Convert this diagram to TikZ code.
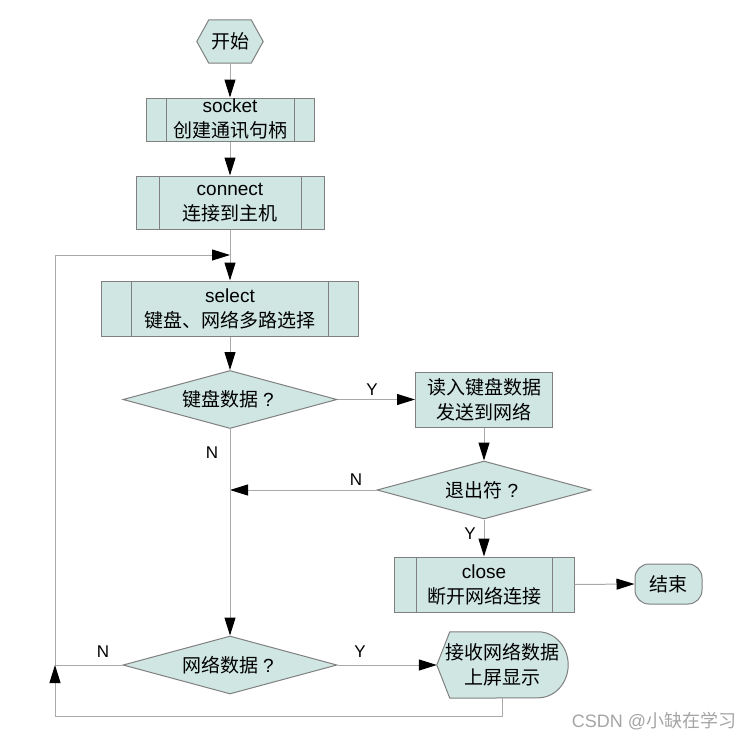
\documentclass[tikz,border=0pt]{standalone}
\usepackage{fontspec}
\setmainfont{Liberation Sans}
\newfontfamily\cjk{Noto Sans CJK SC}
\newcommand\zh[1]{{\cjk #1}}
\newcommand\askmark{\hspace{5pt}?\hspace{4pt}}
\usetikzlibrary{arrows.meta,shapes.geometric}
\pgfdeclarelayer{background}
\pgfsetlayers{background,main}

\definecolor{boxfill}{RGB}{207,230,226}
\definecolor{boxline}{RGB}{128,128,128}
\definecolor{wireline}{RGB}{170,170,170}
\definecolor{marktext}{RGB}{165,165,165}

\tikzset{
  base/.style={font=\fontsize{19}{25}\selectfont, align=center, inner sep=0pt, text=black},
  plainbox/.style={base, rectangle, draw=boxline, fill=boxfill, line width=1pt},
  procbox/.style={plainbox,
    path picture={
      \draw[boxline, line width=1pt]
        ([xshift=#1]path picture bounding box.north west) -- ([xshift=#1]path picture bounding box.south west)
        ([xshift=-#1]path picture bounding box.north east) -- ([xshift=-#1]path picture bounding box.south east);
    }},
  decision/.style={base, diamond, aspect=3.7, draw=boxline, fill=boxfill, line width=1pt,
    minimum width=214pt, minimum height=58pt},
  endbox/.style={plainbox, rounded corners=14pt},
  outline/.style={base, rectangle, draw=none},
  shapeline/.style={draw=boxline, fill=boxfill, line width=1pt},
  flow/.style={draw=wireline, line width=1pt, -{Triangle[length=18pt,width=11pt,color=black]}},
  branch/.style={font=\fontsize{17}{20}\selectfont, inner sep=0pt, text=black},
}

\begin{document}
\begin{tikzpicture}[x=1pt, y=-1pt]
  \useasboundingbox (0,0) rectangle (752,739);

  % main column
  \node[outline, minimum width=66pt, minimum height=43pt] (start) at (230,41.5) {\zh{开始}};
  \node[procbox=20pt, minimum width=168pt, minimum height=43pt] (socket) at (230,119.5)
    {socket\\\zh{创建通讯句柄}};
  \node[procbox=23pt, minimum width=188pt, minimum height=53pt] (connect) at (230,202.5)
    {connect\\\zh{连接到主机}};
  \node[procbox=30pt, minimum width=257pt, minimum height=55pt] (select) at (230,308.5)
    {select\\\zh{键盘、网络多路选择}};
  \node[decision] (kbd) at (230,399.5) {\zh{键盘数据}\askmark};
  \node[decision] (net) at (230,665) {\zh{网络数据}\askmark};

  % keyboard branch
  \node[plainbox, minimum width=137pt, minimum height=55pt] (send) at (484,399.5)
    {\zh{读入键盘数据}\\\zh{发送到网络}};
  \node[decision] (quit) at (484,490) {\zh{退出符}\askmark};
  \node[procbox=22pt, minimum width=180pt, minimum height=55pt] (close) at (484,584.5)
    {close\\\zh{断开网络连接}};
  \node[endbox, minimum width=67pt, minimum height=40pt] (finish) at (668.5,584) {\zh{结束}};

  % network branch
  \node[outline, minimum width=131pt, minimum height=66pt] (show) at (502.5,665)
    {\zh{接收网络数据}\\\zh{上屏显示}};

  % page and outlines drawn behind the texts
  \begin{pgfonlayer}{background}
    \fill[white] (0,0) rectangle (752,739);
    \path[shapeline] (start.west) -- ([xshift=12pt]start.north west) -- ([xshift=-12pt]start.north east)
      -- (start.east) -- ([xshift=-12pt]start.south east) -- ([xshift=12pt]start.south west) -- cycle;
    \path[shapeline] (show.west) -- ([xshift=13pt]show.north west) -- ([xshift=-30pt]show.north east)
      arc[start angle=90, end angle=-90, x radius=30pt, y radius=33pt]
      -- ([xshift=13pt]show.south west) -- cycle;
  \end{pgfonlayer}

  % loop corners
  \coordinate (loopin) at (230,255);
  \coordinate (loopcorner) at (55,255);
  \coordinate (retcorner) at (55,716);

  % connectors
  \draw[flow] (start.south) -- (socket.north);
  \draw[flow] (socket.south) -- (connect.north);
  \draw[flow] (connect.south) -- (select.north);
  \draw[flow] (select.south) -- (kbd.north);
  \draw[flow] (kbd.east) -- (send.west);
  \draw[flow] (send.south) -- (quit.north);
  \draw[flow] (quit.west) -- (kbd.south |- quit.west);
  \draw[flow] (kbd.south) -- (net.north);
  \draw[flow] (quit.south) -- (close.north);
  \draw[flow] (close.east) -- (finish.west);
  \draw[flow] (net.east) -- (show.west);
  \draw[flow] (net.west) -| (loopcorner) -- (loopin);
  \draw[flow] (show.south) |- (retcorner) -- (net.west -| retcorner);

  % branch labels
  \node[branch] (ykbd) at (372,390) {Y};
  \node[branch] (nkbd) at (212,453) {N};
  \node[branch] (nquit) at (356,480) {N};
  \node[branch] (yquit) at (470,534) {Y};
  \node[branch] (nnet) at (103,652) {N};
  \node[branch] (ynet) at (360,652) {Y};

  % watermark
  \node[font=\fontsize{18}{20}\selectfont, text=marktext, inner sep=0pt] (mark) at (654,721)
    {CSDN @\zh{小缺在学习}};
\end{tikzpicture}
\end{document}
